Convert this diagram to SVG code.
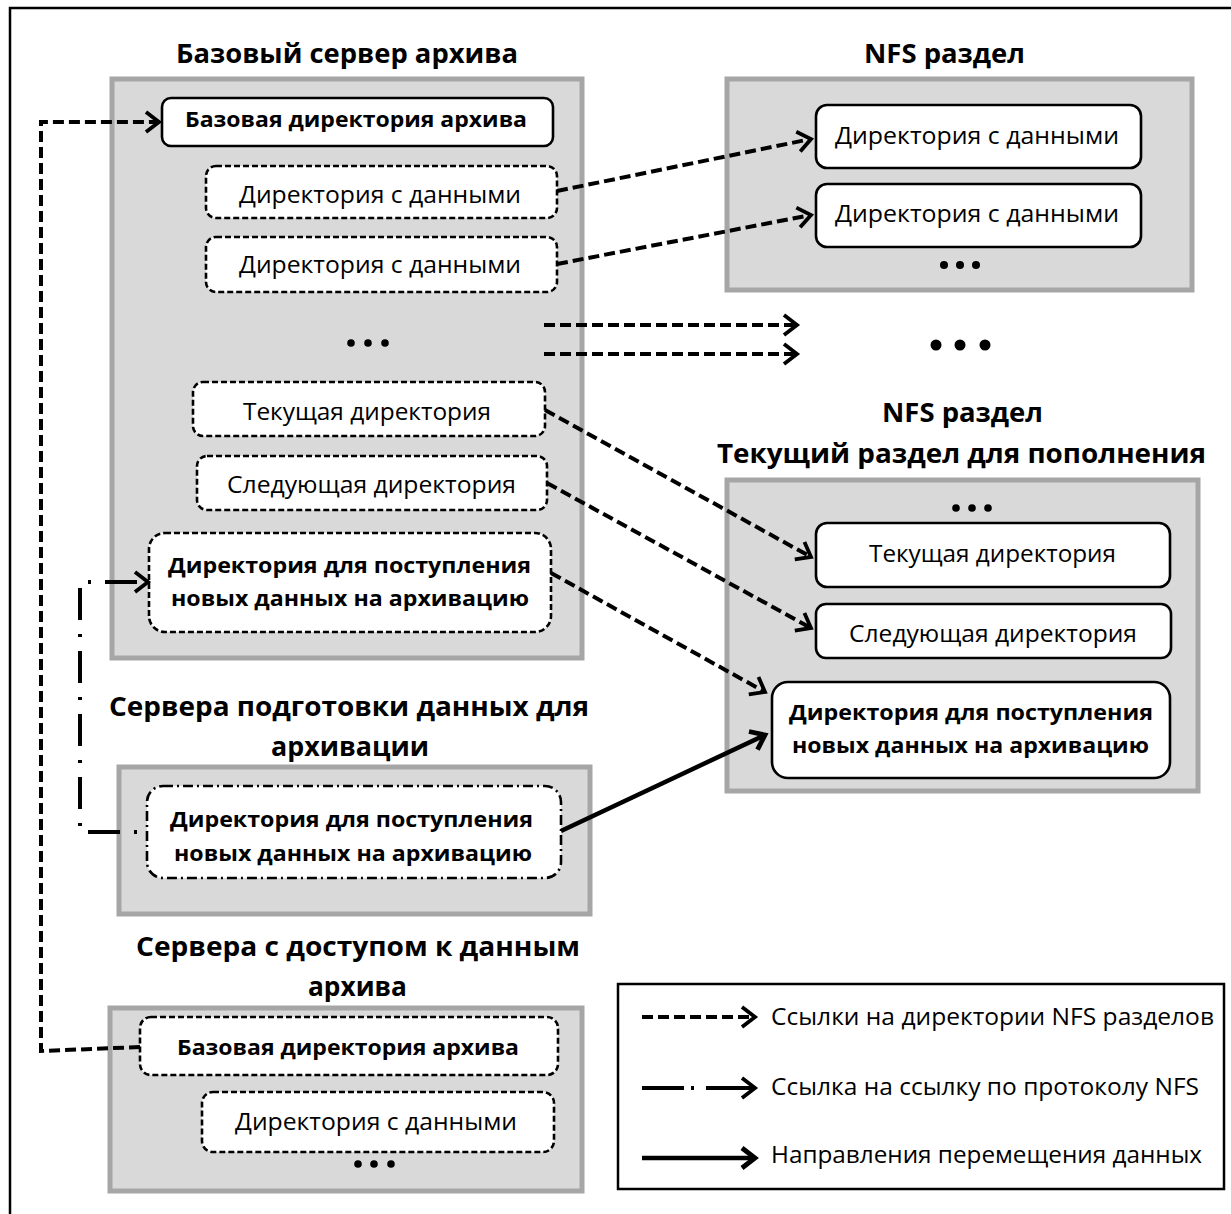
<svg xmlns="http://www.w3.org/2000/svg" width="1231" height="1214" viewBox="0 0 1231 1214">
<style>
.title{font-family:"Open Sans","Noto Sans","Liberation Sans",sans-serif;font-weight:bold;font-size:26px;fill:#000}
.t{font-family:"Open Sans","Noto Sans","Liberation Sans",sans-serif;font-size:23px;fill:#000}
.tb{font-family:"Open Sans","Noto Sans","Liberation Sans",sans-serif;font-weight:bold;font-size:22px;fill:#000}
.lg{font-family:"Open Sans","Noto Sans","Liberation Sans",sans-serif;font-size:23px;fill:#000}
.grp{fill:#d9d9d9;stroke:#a6a6a6;stroke-width:5}
.solid{fill:#fff;stroke:#000;stroke-width:2.6}
.dashed{fill:#fff;stroke:#000;stroke-width:2.6;stroke-dasharray:6 3}
.dashdot{fill:#fff;stroke:#000;stroke-width:2.6;stroke-dasharray:10 4 2 4}
.lnk{fill:none;stroke:#000;stroke-width:4;stroke-dasharray:11 5}
.dd{fill:none;stroke:#000;stroke-width:4}
.mv{fill:none;stroke:#000;stroke-width:4.5}
</style>
<defs>
<marker id="ah" markerUnits="userSpaceOnUse" markerWidth="30" markerHeight="30" viewBox="-15 -15 30 30" refX="0" refY="0" orient="auto">
<path d="M-13,-10 L0,0 L-13,10" fill="none" stroke="#000" stroke-width="3.8" stroke-dasharray="none"/>
</marker>
<marker id="ahb" markerUnits="userSpaceOnUse" markerWidth="30" markerHeight="30" viewBox="-15 -15 30 30" refX="0" refY="0" orient="auto">
<path d="M-13,-10 L0,0 L-13,10" fill="none" stroke="#000" stroke-width="4.8" stroke-dasharray="none"/>
</marker>
</defs>
<rect width="1231" height="1214" fill="#fff"/>
<rect x="10" y="8" width="1250" height="1230" fill="none" stroke="#000" stroke-width="2.5"/>

<text class="title" x="176" y="63" textLength="342" lengthAdjust="spacingAndGlyphs">Базовый сервер архива</text>
<text class="title" x="864" y="63" textLength="161" lengthAdjust="spacingAndGlyphs">NFS раздел</text>
<text class="title" x="882" y="422" textLength="161" lengthAdjust="spacingAndGlyphs">NFS раздел</text>
<text class="title" x="717" y="463" textLength="489" lengthAdjust="spacingAndGlyphs">Текущий раздел для пополнения</text>
<text class="title" x="109" y="716" textLength="480" lengthAdjust="spacingAndGlyphs">Сервера подготовки данных для</text>
<text class="title" x="271" y="756" textLength="158" lengthAdjust="spacingAndGlyphs">архивации</text>
<text class="title" x="136" y="956" textLength="444" lengthAdjust="spacingAndGlyphs">Сервера с доступом к данным</text>
<text class="title" x="308" y="996" textLength="99" lengthAdjust="spacingAndGlyphs">архива</text>

<g id="base-server">
<rect class="grp" x="112" y="79" width="470" height="579"/>
<g id="base-dir"><rect class="solid" x="162" y="98" width="391" height="48" rx="9"/>
<text class="tb" x="185" y="127" textLength="342" lengthAdjust="spacingAndGlyphs">Базовая директория архива</text></g>
<g id="base-data1"><rect class="dashed" x="206" y="166" width="351" height="52" rx="10"/>
<text class="t" x="239" y="203" textLength="282" lengthAdjust="spacingAndGlyphs">Директория с данными</text></g>
<g id="base-data2"><rect class="dashed" x="206" y="237" width="351" height="55" rx="10"/>
<text class="t" x="239" y="273" textLength="282" lengthAdjust="spacingAndGlyphs">Директория с данными</text></g>
<g id="base-dots"><circle cx="351" cy="343" r="3.8"/><circle cx="368" cy="343" r="3.8"/><circle cx="385" cy="343" r="3.8"/></g>
<g id="base-cur"><rect class="dashed" x="193" y="382" width="352" height="54" rx="10"/>
<text class="t" x="243" y="420" textLength="248" lengthAdjust="spacingAndGlyphs">Текущая директория</text></g>
<g id="base-next"><rect class="dashed" x="197" y="456" width="350" height="54" rx="10"/>
<text class="t" x="227" y="493" textLength="289" lengthAdjust="spacingAndGlyphs">Следующая директория</text></g>
<g id="base-incoming"><rect class="dashed" x="149" y="533" width="402" height="99" rx="16"/>
<text class="tb" x="168" y="573" textLength="363" lengthAdjust="spacingAndGlyphs">Директория для поступления</text>
<text class="tb" x="171" y="606" textLength="358" lengthAdjust="spacingAndGlyphs">новых данных на архивацию</text></g>
</g>

<g id="nfs-partition">
<rect class="grp" x="727" y="79" width="465" height="211"/>
<g id="nfs-data1"><rect class="solid" x="816" y="105" width="325" height="63" rx="11"/>
<text class="t" x="835" y="144" textLength="284" lengthAdjust="spacingAndGlyphs">Директория с данными</text></g>
<g id="nfs-data2"><rect class="solid" x="816" y="184" width="325" height="63" rx="11"/>
<text class="t" x="835" y="222" textLength="284" lengthAdjust="spacingAndGlyphs">Директория с данными</text></g>
<g id="nfs-dots"><circle cx="944" cy="265" r="4"/><circle cx="960" cy="265" r="4"/><circle cx="976" cy="265" r="4"/></g>
</g>

<g id="middle-dots"><circle cx="936" cy="345" r="5.5"/><circle cx="960" cy="345" r="5.5"/><circle cx="985" cy="345" r="5.5"/></g>

<g id="nfs-current">
<rect class="grp" x="727" y="480" width="471" height="311"/>
<g id="nfsc-dots"><circle cx="956" cy="508" r="3.8"/><circle cx="972" cy="508" r="3.8"/><circle cx="988" cy="508" r="3.8"/></g>
<g id="nfsc-cur"><rect class="solid" x="816" y="523" width="354" height="64" rx="11"/>
<text class="t" x="869" y="562" textLength="247" lengthAdjust="spacingAndGlyphs">Текущая директория</text></g>
<g id="nfsc-next"><rect class="solid" x="816" y="604" width="355" height="54" rx="10"/>
<text class="t" x="849" y="642" textLength="288" lengthAdjust="spacingAndGlyphs">Следующая директория</text></g>
<g id="nfsc-incoming"><rect class="solid" x="772" y="682" width="398" height="96" rx="16"/>
<text class="tb" x="789" y="720" textLength="364" lengthAdjust="spacingAndGlyphs">Директория для поступления</text>
<text class="tb" x="792" y="753" textLength="357" lengthAdjust="spacingAndGlyphs">новых данных на архивацию</text></g>
</g>

<g id="prep-servers">
<rect class="grp" x="119" y="767" width="471" height="147"/>
<g id="prep-incoming"><rect class="dashdot" x="147" y="786" width="414" height="92" rx="16"/>
<text class="tb" x="170" y="827" textLength="363" lengthAdjust="spacingAndGlyphs">Директория для поступления</text>
<text class="tb" x="174" y="861" textLength="358" lengthAdjust="spacingAndGlyphs">новых данных на архивацию</text></g>
</g>

<g id="access-servers">
<rect class="grp" x="110" y="1008" width="472" height="183"/>
<g id="acc-base"><rect class="dashed" x="140" y="1017" width="418" height="58" rx="11"/>
<text class="tb" x="177" y="1055" textLength="342" lengthAdjust="spacingAndGlyphs">Базовая директория архива</text></g>
<g id="acc-data"><rect class="dashed" x="202" y="1092" width="352" height="60" rx="11"/>
<text class="t" x="235" y="1130" textLength="282" lengthAdjust="spacingAndGlyphs">Директория с данными</text></g>
<g id="acc-dots"><circle cx="358" cy="1164" r="3.8"/><circle cx="374" cy="1164" r="3.8"/><circle cx="391" cy="1164" r="3.8"/></g>
</g>

<g id="connectors">
<path class="lnk" d="M140,1047 L41,1051 L41,122 L159,122" marker-end="url(#ah)"/>
<path class="lnk" d="M557,191 L811,139" marker-end="url(#ah)"/>
<path class="lnk" d="M557,264 L811,215" marker-end="url(#ah)"/>
<path class="lnk" d="M544,325 L797,325" marker-end="url(#ah)"/>
<path class="lnk" d="M544,354 L797,354" marker-end="url(#ah)"/>
<path class="lnk" d="M545,410 L811,557" marker-end="url(#ah)"/>
<path class="lnk" d="M547,483 L811,628" marker-end="url(#ah)"/>
<path class="lnk" d="M551,573 L765,692" marker-end="url(#ah)"/>
<path class="dd" d="M147,832 L80,832 L80,582 L148,582" stroke-dasharray="32 14 3 14" stroke-dashoffset="36" marker-end="url(#ah)"/>
<path class="mv" d="M561,831 L765,735" marker-end="url(#ahb)"/>
</g>

<g id="legend">
<rect x="618" y="984" width="606" height="205" fill="#fff" stroke="#000" stroke-width="2.5"/>
<path class="lnk" d="M642,1017 L755,1017" marker-end="url(#ah)"/>
<path class="dd" d="M642,1088 L755,1088" stroke-dasharray="42 7 3 12 60" marker-end="url(#ah)"/>
<path class="mv" d="M642,1158 L755,1158" stroke-width="5.5" marker-end="url(#ahb)"/>
<text class="lg" x="771" y="1025" textLength="443" lengthAdjust="spacingAndGlyphs">Ссылки на директории NFS разделов</text>
<text class="lg" x="771" y="1095" textLength="428" lengthAdjust="spacingAndGlyphs">Ссылка на ссылку по протоколу NFS</text>
<text class="lg" x="771" y="1163" textLength="431" lengthAdjust="spacingAndGlyphs">Направления перемещения данных</text>
</g>
</svg>
